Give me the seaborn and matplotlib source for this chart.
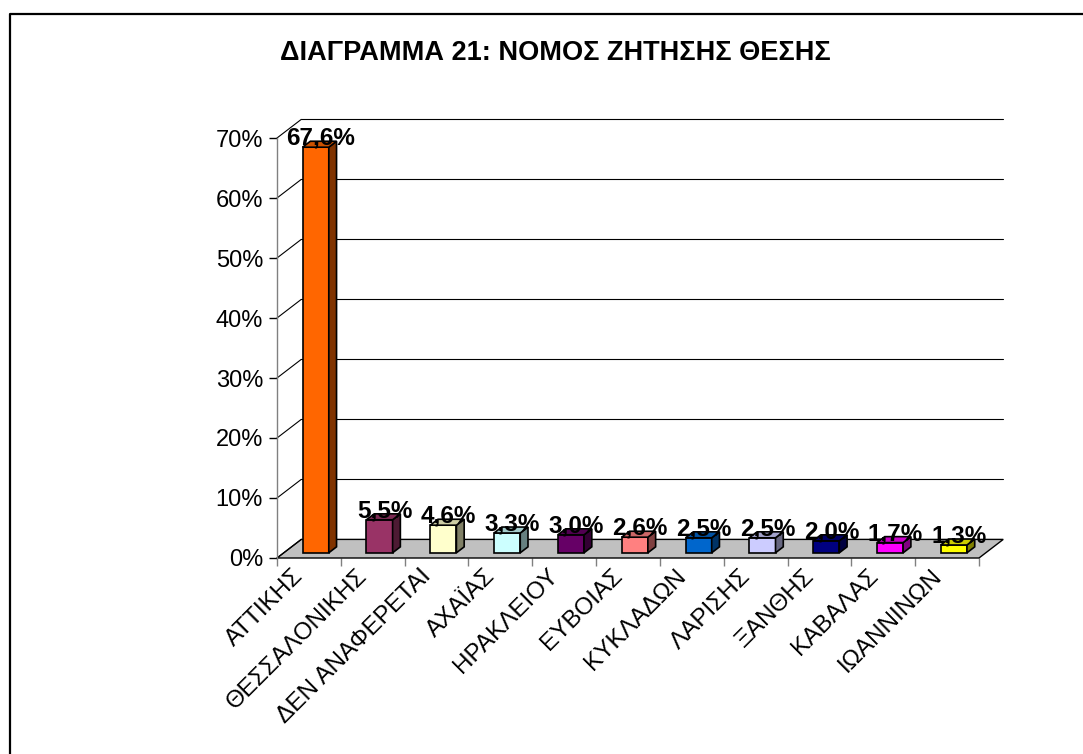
import matplotlib
matplotlib.use("Agg")
import matplotlib.pyplot as plt
from matplotlib.patches import Polygon
from matplotlib.lines import Line2D
from matplotlib.transforms import ScaledTranslation
import seaborn as sns

sns.set_theme(style="white")
plt.rcParams['font.family'] = ['Liberation Sans', 'DejaVu Sans']
plt.rcParams.update({'text.color': 'black', 'xtick.color': 'black',
                     'ytick.color': 'black', 'axes.labelcolor': 'black'})

# === DATA ===
titlos = "ΔΙΑΓΡΑΜΜΑ 21: ΝΟΜΟΣ ΖΗΤΗΣΗΣ ΘΕΣΗΣ"
nomoi = ['ΑΤΤΙΚΗΣ', 'ΘΕΣΣΑΛΟΝΙΚΗΣ', 'ΔΕΝ ΑΝΑΦΕΡΕΤΑΙ', 'ΑΧΑΪΑΣ', 'ΗΡΑΚΛΕΙΟΥ',
         'ΕΥΒΟΙΑΣ', 'ΚΥΚΛΑΔΩΝ', 'ΛΑΡΙΣΗΣ', 'ΞΑΝΘΗΣ', 'ΚΑΒΑΛΑΣ', 'ΙΩΑΝΝΙΝΩΝ']
pososta = [67.6, 5.5, 4.6, 3.3, 3.0, 2.6, 2.5, 2.5, 2.0, 1.7, 1.3]
xromata = ['#FF6600', '#993366', '#FFFFCC', '#CCFFFF', '#660066', '#FF8080',
           '#0066CC', '#CCCCFF', '#000080', '#FF00FF', '#FFFF00']
yticks = [0, 10, 20, 30, 40, 50, 60, 70]

# 3D look (depth of floor in data units, bar placement inside the depth)
D_X, D_Y = 0.38, 3.1
F0, FB = 0.28, 0.32


def skia(c, k):
    r, g, b = matplotlib.colors.to_rgb(c)
    return (r * k, g * k, b * k)


W, H = 1083, 754
fig = plt.figure(figsize=(W / 100, H / 100), dpi=100)
ax = fig.add_axes([277 / W, 196 / H, 702 / W, 420 / H])

sns.barplot(x=nomoi, y=pososta, hue=nomoi, palette=xromata, legend=False,
            width=0.41, saturation=1, edgecolor='black', linewidth=1.2,
            ax=ax, zorder=3)
bars = sorted(list(ax.patches), key=lambda p: p.get_x())

ax.set_xlim(-0.5, len(nomoi) - 0.5)
ax.set_ylim(0, 70)
x0, x1 = -0.5, len(nomoi) - 0.5

# floor
floor = Polygon([(x0, 0), (x1, 0), (x1 + D_X, D_Y), (x0 + D_X, D_Y)],
                closed=True, facecolor='#C0C0C0', edgecolor='black',
                lw=1.0, clip_on=False, zorder=1)
ax.add_patch(floor)

# back wall gridlines + side diagonals
for v in yticks:
    ax.plot([x0, x0 + D_X], [v, v + D_Y], color='black', lw=0.8,
            clip_on=False, zorder=1)
    if v > 0:
        ax.plot([x0 + D_X, x1 + D_X], [v + D_Y, v + D_Y], color='black',
                lw=0.8, clip_on=False, zorder=1)

# shift the bars into the depth and add side / top faces
bx, by = F0 * D_X, F0 * D_Y
dx, dy = FB * D_X, FB * D_Y
for b, c, v in zip(bars, xromata, pososta):
    b.set_x(b.get_x() + bx)
    b.set_y(by)
    b.set_clip_on(False)
    l = b.get_x()
    r = l + b.get_width()
    t = by + b.get_height()
    side = Polygon([(r, by), (r + dx, by + dy), (r + dx, t + dy), (r, t)],
                   closed=True, facecolor=skia(c, 0.5), edgecolor='black',
                   lw=1.2, clip_on=False, zorder=3)
    top = Polygon([(l, t), (r, t), (r + dx, t + dy), (l + dx, t + dy)],
                  closed=True, facecolor=skia(c, 0.8), edgecolor='black',
                  lw=1.2, clip_on=False, zorder=3)
    ax.add_patch(side)
    ax.add_patch(top)
    ax.text((l + r) / 2 + 0.08, t + 1.5, f"{v:.1f}".replace('.', ',') + '%',
            ha='center', va='center', fontsize=17.5, fontweight='bold',
            color='black', zorder=5, clip_on=False)

# axes
for s in ['top', 'right', 'bottom']:
    ax.spines[s].set_visible(False)
ax.spines['left'].set_color('#808080')
ax.spines['left'].set_linewidth(1.0)

ax.set_yticks(yticks)
ax.set_yticklabels([f"{v}%" for v in yticks])
ax.tick_params(axis='y', which='major', direction='out', length=6,
               width=1.0, color='black', labelcolor='black', labelsize=17,
               pad=4, left=True)

ax.set_xticks(range(len(nomoi)))
ax.set_xticklabels(nomoi, rotation=45, ha='right', va='top')
ax.set_xticks([i - 0.5 for i in range(len(nomoi) + 1)], minor=True)
ax.tick_params(axis='x', which='major', length=0, labelsize=17.5,
               labelcolor='black', pad=5)
ax.tick_params(axis='x', which='minor', direction='out', length=6,
               width=1.0, color='#808080', bottom=True)
off = ScaledTranslation(-1 / 100, 0, fig.dpi_scale_trans)
for lbl in ax.get_xticklabels():
    lbl.set_transform(lbl.get_transform() + off)

ax.set_xlabel('')
ax.set_ylabel('')
ax.patch.set_alpha(0)

# title and frame
fig.text(555 / W, 1 - 53 / H, titlos, ha='center', va='center',
         fontsize=19.5, fontweight='bold', color='black')
fig.add_artist(Line2D([10 / W, 10 / W, 1], [0, 1 - 14 / H, 1 - 14 / H],
                      transform=fig.transFigure, color='black', lw=1.6))

fig.savefig('out.png', dpi=100)
